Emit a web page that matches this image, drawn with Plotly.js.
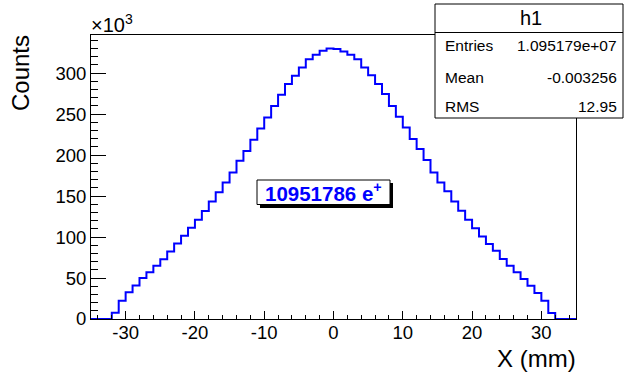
<!DOCTYPE html>
<html>
<head>
<meta charset="utf-8">
<script src="https://cdn.plot.ly/plotly-3.0.1.min.js"></script>
<style>html,body{margin:0;padding:0;background:#fff;}#chart{width:624px;height:379px;}</style>
</head>
<body>
<div id="chart"></div>
<script>
// Histogram h1: 70 bins of 1 mm from -35 to 35, counts in thousands
const binLow = -35;
const binWidth = 1;
const countsK = [
  0, 0, 0,
  7.7, 22.4, 32.5, 41, 50, 57, 65, 73, 82.5, 92, 101.6, 111.4, 121, 131.7, 143.5, 154.5,
  166.6, 178.8, 193, 205, 218.7, 232.4, 245.9, 260, 273.5, 286.6, 296.7, 306.8, 317, 322.3, 327.2, 330,
  329.3, 326.3, 322.3, 317, 306.8, 297.5, 286.6, 274.4, 260, 246.7, 233.7, 219.5, 207.3, 193.9, 178.8, 166.6,
  156, 143.5, 132, 121, 110.6, 100.8, 91.5, 83.3, 73.2, 65, 57, 48.8, 40.7, 31.7, 22.4, 7.3,
  0, 0, 0
];
const xTickVals = [-30, -20, -10, 0, 10, 20, 30];
const xTickText = ["-30", "-20", "-10", "0", "10", "20", "30"];
const yTickVals = [0, 50, 100, 150, 200, 250, 300];
const yTickText = ["0", "50", "100", "150", "200", "250", "300"];
const statsName = "h1";
const statsLabels = ["Entries", "Mean", "RMS"];
const statsValues = ["1.095179e+07", "-0.003256", "12.95"];
const labelText = "10951786 e<sup>+</sup>";
const xTitle = "X (mm)";
const yTitle = "Counts";

// step line through bin edges
const xs = [], ys = [];
countsK.forEach((c, i) => { xs.push(binLow + i * binWidth); ys.push(c); });
xs.push(binLow + countsK.length * binWidth); ys.push(countsK[countsK.length - 1]);

// plot area in pixels
const W = 624, H = 379;
const L = 91, R = 576, T = 35, B = 319;
const px = x => (x - L) / (R - L);
const py = y => (B - y) / (B - T);

const FONT = "Liberation Sans, Arial, Helvetica, sans-serif";

const trace = {
  type: "scatter", mode: "lines", x: xs, y: ys,
  line: { shape: "hv", color: "#0000ff", width: 2 },
  hoverinfo: "skip", showlegend: false
};

const annotations = [
  { text: xTitle, xref: "paper", yref: "paper", x: px(578), y: py(358), xanchor: "right", yanchor: "middle", showarrow: false, font: { family: FONT, size: 24, color: "#000" } },
  { text: yTitle, xref: "paper", yref: "paper", x: px(20), y: py(33), xanchor: "center", yanchor: "top", textangle: -90, showarrow: false, font: { family: FONT, size: 24, color: "#000" } },
  { text: "\u00d710<sup>3</sup>", xref: "paper", yref: "paper", x: px(89), y: py(24), xanchor: "left", yanchor: "middle", showarrow: false, font: { family: FONT, size: 20, color: "#000" } },
  { text: statsName, xref: "paper", yref: "paper", x: px(531), y: py(18), xanchor: "center", yanchor: "middle", showarrow: false, font: { family: FONT, size: 20, color: "#000" } },
  { text: labelText, xref: "paper", yref: "paper", x: px(323.5), y: py(192), xanchor: "center", yanchor: "middle", showarrow: false, font: { family: FONT, size: 20.5, color: "#0000ff", weight: "bold" } }
];
const rowY = [46, 77, 106];
statsLabels.forEach((lab, i) => {
  annotations.push({ text: lab, xref: "paper", yref: "paper", x: px(443), y: py(rowY[i]), xanchor: "left", yanchor: "middle", showarrow: false, font: { family: FONT, size: 15.5, color: "#000" } });
  annotations.push({ text: statsValues[i], xref: "paper", yref: "paper", x: px(619), y: py(rowY[i]), xanchor: "right", yanchor: "middle", showarrow: false, font: { family: FONT, size: 15.5, color: "#000" } });
});

const shapes = [
  // stats box
  { type: "rect", xref: "paper", yref: "paper", x0: px(435), x1: px(623), y0: py(4), y1: py(118), fillcolor: "#fff", line: { color: "#000", width: 1 }, layer: "above" },
  { type: "line", xref: "paper", yref: "paper", x0: px(435), x1: px(623), y0: py(32.5), y1: py(32.5), line: { color: "#000", width: 1 }, layer: "above" },
  // label box with shadow
  { type: "rect", xref: "paper", yref: "paper", x0: px(260), x1: px(393), y0: py(183), y1: py(208), fillcolor: "#000", line: { width: 0 }, layer: "above" },
  { type: "rect", xref: "paper", yref: "paper", x0: px(257), x1: px(390), y0: py(180), y1: py(204.5), fillcolor: "#fff", line: { color: "#000", width: 1 }, layer: "above" }
];

const layout = {
  width: W, height: H,
  margin: { l: L, r: W - R, t: T, b: H - B, pad: 0 },
  paper_bgcolor: "#fff", plot_bgcolor: "#fff",
  showlegend: false,
  font: { family: FONT, color: "#000" },
  xaxis: {
    range: [-35, 35], tickmode: "array", tickvals: xTickVals, ticktext: xTickText,
    ticks: "inside", ticklen: 8.5, tickwidth: 1, tickcolor: "#000",
    minor: { dtick: 2, tick0: 0, ticks: "inside", ticklen: 4.5, tickcolor: "#000", tickwidth: 1 },
    showline: true, mirror: true, linecolor: "#000", linewidth: 1,
    showgrid: false, zeroline: false, ticklabelstandoff: -3,
    tickfont: { family: FONT, size: 18.5, color: "#000" }
  },
  yaxis: {
    range: [0, 346.5], tickmode: "array", tickvals: yTickVals, ticktext: yTickText,
    ticks: "inside", ticklen: 14.5, tickwidth: 1, tickcolor: "#000",
    minor: { dtick: 10, tick0: 0, ticks: "inside", ticklen: 7, tickcolor: "#000", tickwidth: 1 },
    showline: true, mirror: true, linecolor: "#000", linewidth: 1,
    showgrid: false, zeroline: false,
    tickfont: { family: FONT, size: 18.5, color: "#000" }
  },
  annotations: annotations,
  shapes: shapes
};

Plotly.newPlot("chart", [trace], layout, { staticPlot: true, displayModeBar: false });
</script>
</body>
</html>
